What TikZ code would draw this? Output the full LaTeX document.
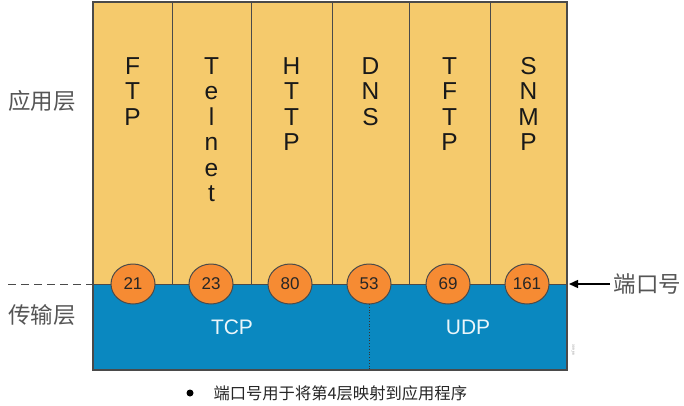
\documentclass[tikz,border=0pt]{standalone}
\usepackage{fontspec}
\setmainfont{Liberation Sans}
\newfontfamily\cjk{Noto Sans CJK SC}
\usetikzlibrary{arrows.meta,shapes.geometric}
\definecolor{appyel}{HTML}{F5CA6C}
\definecolor{trblue}{HTML}{0A88C0}
\definecolor{portor}{HTML}{F68B33}
\definecolor{edgec}{HTML}{4A4A4A}
\definecolor{lblgrey}{HTML}{555555}
\tikzset{
  proto/.style={align=center, font=\fontsize{24.5}{25.5}\selectfont, text=black!90, anchor=north, inner sep=0pt},
  port/.style={ellipse, draw=edgec, line width=1pt, fill=portor, minimum width=44pt, minimum height=40pt, inner sep=0pt, font=\fontsize{17}{17}\selectfont, text=black!85},
  layerlbl/.style={font=\cjk\fontsize{22.5}{22.5}\selectfont, text=lblgrey},
  trlbl/.style={font=\fontsize{21}{21}\selectfont, text=white!92!trblue},
}
\begin{document}
\begin{tikzpicture}[x=1pt,y=-1pt]
\useasboundingbox (0,0) rectangle (684,406);
% application area
\fill[appyel] (93,2) rectangle (567,284);
\fill[trblue] (93,284) rectangle (567,370);
\foreach \x in {172,251,332,409,490} \draw[edgec, line width=1pt] (\x,2) -- (\x,284);
\draw[edgec, line width=1pt] (93,284) -- (567,284);
\draw[edgec, line width=1.2pt] (93,2) rectangle (567,370);
% dotted divider in transport
\coordinate (dtop) at (369,304);
\coordinate (dbot) at (369,370);
\draw[black!80, dotted, line width=0.8pt] (dtop) -- (dbot);
% protocols
\node[proto] (ftp) at (132.5,57) {F\\T\\P};
\node[proto] (telnet) at (211.5,57) {T\\e\\l\\n\\e\\t};
\node[proto] (http) at (291.5,57) {H\\T\\T\\P};
\node[proto] (dns) at (370.5,57) {D\\N\\S};
\node[proto] (tftp) at (449.5,57) {T\\F\\T\\P};
\node[proto] (snmp) at (528.5,57) {S\\N\\M\\P};
% ports
\node[port] (p21) at (133,284) {21};
\node[port] (p23) at (211,284) {23};
\node[port] (p80) at (290,284) {80};
\node[port] (p53) at (369,284) {53};
\node[port] (p69) at (448,284) {69};
\node[port] (p161) at (527,284) {161};
% transport labels
\node[trlbl] (tcp) at (232,327) {TCP};
\node[trlbl] (udp) at (468,327) {UDP};
% layer labels
\node[layerlbl] (app) at (42,101) {应用层};
\node[layerlbl] (trans) at (42,315) {传输层};
\coordinate (dashL) at (8,284);
\coordinate (boxL) at (93,284);
\draw[edgec, dashed, dash pattern=on 8pt off 5pt, line width=1pt] (dashL) -- (boxL);
% port label
\node[layerlbl, anchor=west] (portlbl) at (610,284) {端口号};
\coordinate (boxR) at (569,284);
\draw[black, line width=1.4pt, -{Triangle[length=9pt,width=8pt]}] (portlbl.west) -- (boxR);
% tiny code
\node[rotate=-90, font=\fontsize{3}{3}\selectfont, text=black!50] (code) at (573,350) {309\_88};
% bottom note
\node[circle, fill=black, inner sep=0pt, minimum size=7pt] (bul) at (190,393) {};
\node[anchor=west, font=\cjk\fontsize{16.3}{16.3}\selectfont, text=black!85] (note) at (210,393) {端口号用于将第4层映射到应用程序};
\end{tikzpicture}
\end{document}
